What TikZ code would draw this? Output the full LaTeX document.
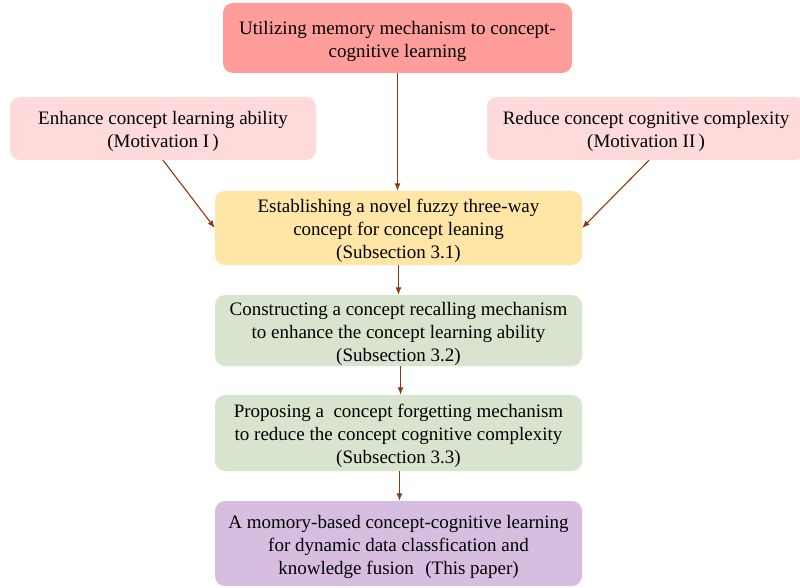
\documentclass[tikz,border=0pt]{standalone}
\usepackage{fontspec}
\setmainfont{Liberation Serif}
\usetikzlibrary{arrows.meta}
\definecolor{topred}{RGB}{255,157,155}
\definecolor{motpink}{RGB}{255,218,218}
\definecolor{stepyellow}{RGB}{255,230,166}
\definecolor{stepgreen}{RGB}{217,228,206}
\definecolor{steppurple}{RGB}{215,190,225}
\definecolor{arrowbrown}{RGB}{140,58,22}
\begin{document}
\begin{tikzpicture}[x=1pt,y=-1pt,
  box/.style={rounded corners=10pt, inner sep=0pt},
  txt/.style={align=center, inner sep=0pt, yshift=-3pt,
    font=\fontsize{19}{23}\selectfont, text=black},
  flow/.style={draw=arrowbrown, line width=1.1pt,
    -{Latex[length=7.5pt,width=6pt]}}]
\clip (0,0) rectangle (800,588);
\fill[white] (0,0) rectangle (800,588);
\node[box, fill=topred, minimum width=349pt, minimum height=70pt,
  label={[txt]center:Utilizing memory mechanism to concept-\\cognitive learning}] (top) at (397.5,38) {};
\node[box, fill=motpink, minimum width=306pt, minimum height=63pt,
  label={[txt]center:Enhance concept learning ability\\(Motivation I\,)}] (mot1) at (163,128.5) {};
\node[box, fill=motpink, minimum width=318pt, minimum height=63pt,
  label={[txt]center:Reduce concept cognitive complexity\\(Motivation II\,)}] (mot2) at (646,128.5) {};
\node[box, fill=stepyellow, minimum width=367pt, minimum height=74pt,
  label={[txt]center:Establishing a novel fuzzy three-way\\concept for concept leaning\\(Subsection 3.1)}] (s1) at (398.5,228) {};
\node[box, fill=stepgreen, minimum width=367pt, minimum height=71pt,
  label={[txt]center:Constructing a concept recalling mechanism\\to enhance the concept learning ability\\(Subsection 3.2)}] (s2) at (398.5,330.5) {};
\node[box, fill=stepgreen, minimum width=367pt, minimum height=76pt,
  label={[txt]center:Proposing a\ \ concept forgetting mechanism\\to reduce the concept cognitive complexity\\(Subsection 3.3)}] (s3) at (398.5,433) {};
\node[box, fill=steppurple, minimum width=367pt, minimum height=85pt,
  label={[txt]center:A momory-based concept-cognitive learning\\for dynamic data classfication and\\knowledge fusion\hspace{0.6em}(This paper)}] (s4) at (398.5,543.5) {};
\draw[flow] (top.south) -- (top.south |- s1.north);
\draw[flow] (mot1.south) -- (s1.west);
\draw[flow] ([xshift=3pt]mot2.south) -- (s1.east);
\draw[flow] (s1.south) -- (s2.north);
\draw[flow] ([xshift=2pt]s2.south) -- ([xshift=2pt]s3.north);
\draw[flow] ([xshift=1pt]s3.south) -- ([xshift=1pt]s4.north);
\end{tikzpicture}
\end{document}
